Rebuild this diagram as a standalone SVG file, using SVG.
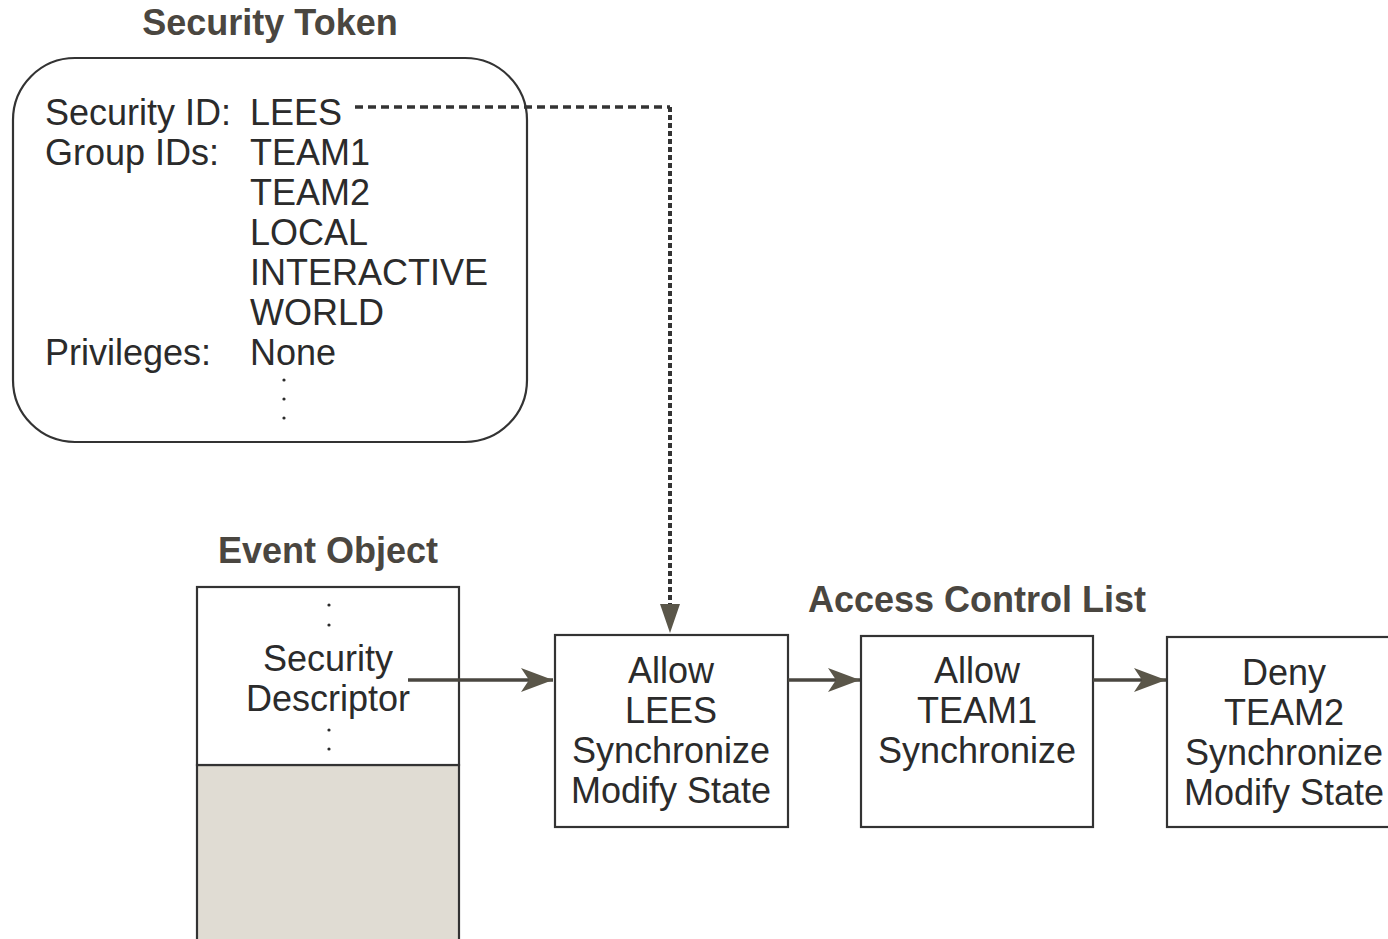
<svg xmlns="http://www.w3.org/2000/svg" width="1388" height="939" viewBox="0 0 1388 939">
<style>
.t{font-family:"Liberation Sans",Arial,sans-serif;font-size:36px;fill:#2b2b2b}
.c{text-anchor:middle}
.h{font-family:"Liberation Sans",Arial,sans-serif;font-size:36px;font-weight:bold;fill:#4a4640;text-anchor:middle}
.box{fill:#fff;stroke:#333;stroke-width:2.2}
.ln{fill:none;stroke:#4a4740;stroke-width:3.5}
.dot{fill:#2b2b2b}
</style>
<defs>
<marker id="ahb" markerWidth="32" markerHeight="24" refX="32" refY="12" orient="auto" markerUnits="userSpaceOnUse" viewBox="0 0 32 24">
<path d="M0,0 L32,12 L0,24 L8,12 Z" fill="#5a5649"/>
</marker>
</defs>
<rect width="1388" height="939" fill="#fff"/>

<g id="security-token">
<text class="h" x="270" y="35">Security Token</text>
<rect class="box" x="13" y="58" width="514" height="384" rx="62" ry="62"/>
<text class="t" x="45" y="125">Security ID:</text>
<text class="t" x="45" y="165">Group IDs:</text>
<text class="t" x="45" y="365">Privileges:</text>
<text class="t" x="250" y="125">LEES</text>
<text class="t" x="250" y="165">TEAM1</text>
<text class="t" x="250" y="205">TEAM2</text>
<text class="t" x="250" y="245">LOCAL</text>
<text class="t" x="250" y="285">INTERACTIVE</text>
<text class="t" x="250" y="325">WORLD</text>
<text class="t" x="250" y="365">None</text>
<circle class="dot" cx="284" cy="380" r="1.6"/>
<circle class="dot" cx="284" cy="399" r="1.6"/>
<circle class="dot" cx="284" cy="418" r="1.6"/>
</g>

<g id="event-object">
<text class="h" x="328" y="563">Event Object</text>
<rect x="197" y="765" width="262" height="180" fill="#e0dcd3" stroke="#333" stroke-width="2.2"/>
<rect class="box" x="197" y="587" width="262" height="178"/>
<circle class="dot" cx="329" cy="605" r="1.6"/>
<circle class="dot" cx="329" cy="625" r="1.6"/>
<text class="t c" x="328" y="671">Security</text>
<text class="t c" x="328" y="711">Descriptor</text>
<circle class="dot" cx="329" cy="730" r="1.6"/>
<circle class="dot" cx="329" cy="749" r="1.6"/>
</g>

<g id="acl-title">
<text class="h" x="977" y="612">Access Control List</text>
</g>

<g id="ace-allow-lees">
<rect class="box" x="555" y="635" width="233" height="192"/>
<text class="t c" x="671" y="683">Allow</text>
<text class="t c" x="671" y="723">LEES</text>
<text class="t c" x="671" y="763">Synchronize</text>
<text class="t c" x="671" y="803">Modify State</text>
</g>

<g id="ace-allow-team1">
<rect class="box" x="861" y="636" width="232" height="191"/>
<text class="t c" x="977" y="683">Allow</text>
<text class="t c" x="977" y="723">TEAM1</text>
<text class="t c" x="977" y="763">Synchronize</text>
</g>

<g id="ace-deny-team2">
<rect class="box" x="1167" y="637" width="240" height="190"/>
<text class="t c" x="1284" y="685">Deny</text>
<text class="t c" x="1284" y="725">TEAM2</text>
<text class="t c" x="1284" y="765">Synchronize</text>
<text class="t c" x="1284" y="805">Modify State</text>
</g>

<g id="connectors">
<path d="M355,107 H670" fill="none" stroke="#333" stroke-width="3.5" stroke-dasharray="8,5"/>
<path d="M670,107 V606" fill="none" stroke="#333" stroke-width="4" stroke-dasharray="5,3"/>
<path d="M660,604 L680,604 L670,633 Z" fill="#5a5649"/>
<line class="ln" x1="408" y1="680" x2="553" y2="680" marker-end="url(#ahb)"/>
<line class="ln" x1="788" y1="680" x2="860" y2="680" stroke-width="4.5" marker-end="url(#ahb)"/>
<line class="ln" x1="1093" y1="680" x2="1166" y2="680" stroke-width="4.5" marker-end="url(#ahb)"/>
</g>
</svg>
